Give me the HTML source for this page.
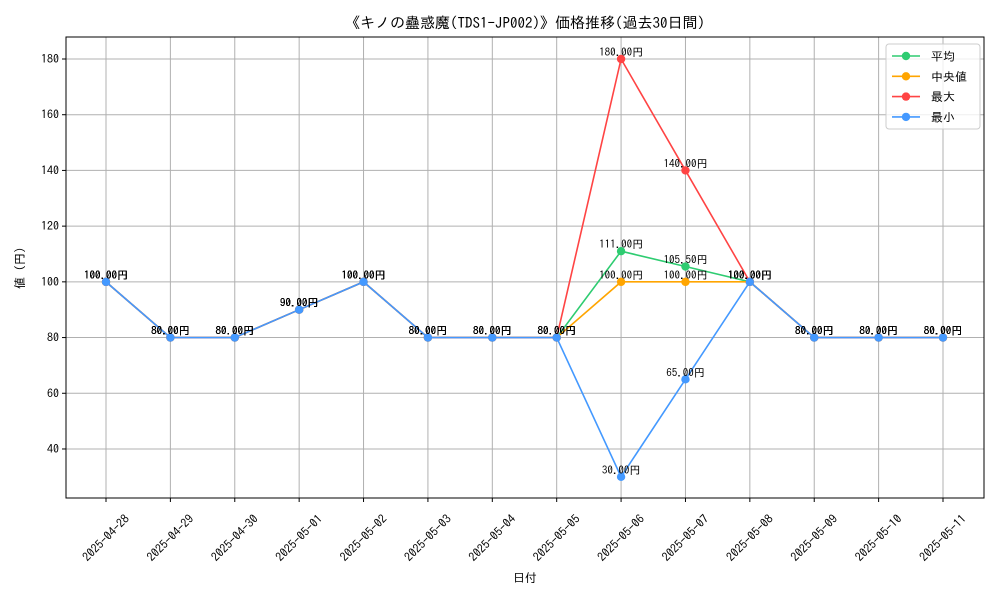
<!DOCTYPE html>
<html><head><meta charset="utf-8"><style>
body{margin:0;background:#fff}
svg text{font-family:"IPAGothic","Liberation Sans","Noto Sans CJK JP",sans-serif;}
</style></head><body>
<svg id="chart" width="1000" height="600" xmlns="http://www.w3.org/2000/svg">
<rect width="1000" height="600" fill="#fff"/>
<text x="525" y="28" font-size="15" text-anchor="middle">《キノの蠱惑魔(TDS1-JP002)》価格推移(過去30日間)</text>
<g id="grid"></g>
<g id="series"></g>
<g id="labels"></g>
<rect x="66" y="37" width="918" height="461" fill="none" stroke="#000" stroke-width="1"/>
<g id="axes"></g>
<text x="525" y="582" font-size="12" text-anchor="middle">日付</text>
<text transform="translate(24,268) rotate(-90)" font-size="12" text-anchor="middle">値 (円)</text>
<g id="legend"></g>
</svg>
<script>
const dates=["2025-04-28","2025-04-29","2025-04-30","2025-05-01","2025-05-02","2025-05-03","2025-05-04","2025-05-05","2025-05-06","2025-05-07","2025-05-08","2025-05-09","2025-05-10","2025-05-11"];
const avgVals=[100,80,80,90,100,80,80,80,111,105.5,100,80,80,80];
const medVals=[100,80,80,90,100,80,80,80,100,100,100,80,80,80];
const maxVals=[100,80,80,90,100,80,80,80,180,140,100,80,80,80];
const minVals=[100,80,80,90,100,80,80,80,30,65,100,80,80,80];
const yTicks=[40,60,80,100,120,140,160,180];
const seriesNames=["平均","中央値","最大","最小"];
const NS="http://www.w3.org/2000/svg";
const X0=66,X1=984,Y0=37,Y1=498,YMIN=22.4,YMAX=187.9;
const step=(943-106)/(dates.length-1);
function xs(i){return 106+i*step;}
function ys(v){return Y1-(v-YMIN)/(YMAX-YMIN)*(Y1-Y0);}
function mk(tag,attrs,parent){const e=document.createElementNS(NS,tag);for(const k in attrs)e.setAttribute(k,attrs[k]);parent.appendChild(e);return e;}
const grid=document.getElementById('grid'),axes=document.getElementById('axes');
dates.forEach((d,i)=>{
  const x=xs(i);
  const gl=mk('line',{x1:x,x2:x,y1:Y0,y2:Y1,stroke:'#b0b0b0','stroke-width':1},grid);
  
  
  mk('line',{x1:x,x2:x,y1:Y1,y2:Y1+4,stroke:'#000'},axes);
  const t=mk('text',{x:x,y:542,'font-size':12,'text-anchor':'middle',transform:`rotate(-45 ${x} 538)`},axes);
  t.textContent=d;
  
  
});
yTicks.forEach(v=>{
  const y=ys(v);
  const gl=mk('line',{x1:X0,x2:X1,y1:y,y2:y,stroke:'#b0b0b0','stroke-width':1},grid);
  
  
  mk('line',{x1:X0-4,x2:X0,y1:y,y2:y,stroke:'#000'},axes);
  const t=mk('text',{x:X0-7,y:y+4,'font-size':12,'text-anchor':'end'},axes);
  t.textContent=v;
  
  
});
const colors=["#2ecc71","#ffa500","#ff4444","#4499ff"];
const allSeries=[avgVals,medVals,maxVals,minVals];
const sg=document.getElementById('series'),lg=document.getElementById('labels');
allSeries.forEach((vals,s)=>{
  const pts=vals.map((v,i)=>xs(i)+','+ys(v)).join(' ');
  const pl=mk('polyline',{points:pts,fill:'none',stroke:colors[s],'stroke-width':1.6},sg);
  
  
  vals.forEach((v,i)=>{
    const c=mk('circle',{cx:xs(i),cy:ys(v),r:4.2,fill:colors[s]},sg);
    
    
    const t=mk('text',{x:xs(i),y:ys(v)-3,'font-size':11,'text-anchor':'middle'},lg);
    t.textContent=v.toFixed(2)+'円';
    
    
  });
});
const leg=document.getElementById('legend');
mk('rect',{x:886,y:44,width:94,height:85,rx:3,fill:'#fff','fill-opacity':0.8,stroke:'#ccc'},leg);
seriesNames.forEach((n,k)=>{
  const y=56+k*20.3;
  const l=mk('line',{x1:892,x2:920,y1:y,y2:y,stroke:colors[k],'stroke-width':1.6},leg);
  
  
  mk('circle',{cx:906,cy:y,r:4.2,fill:colors[k]},leg);
  const t=mk('text',{x:931,y:y+4.5,'font-size':12},leg);
  t.textContent=(k===1?' ':'')+n;
  
  
});
</script>
</body></html>
